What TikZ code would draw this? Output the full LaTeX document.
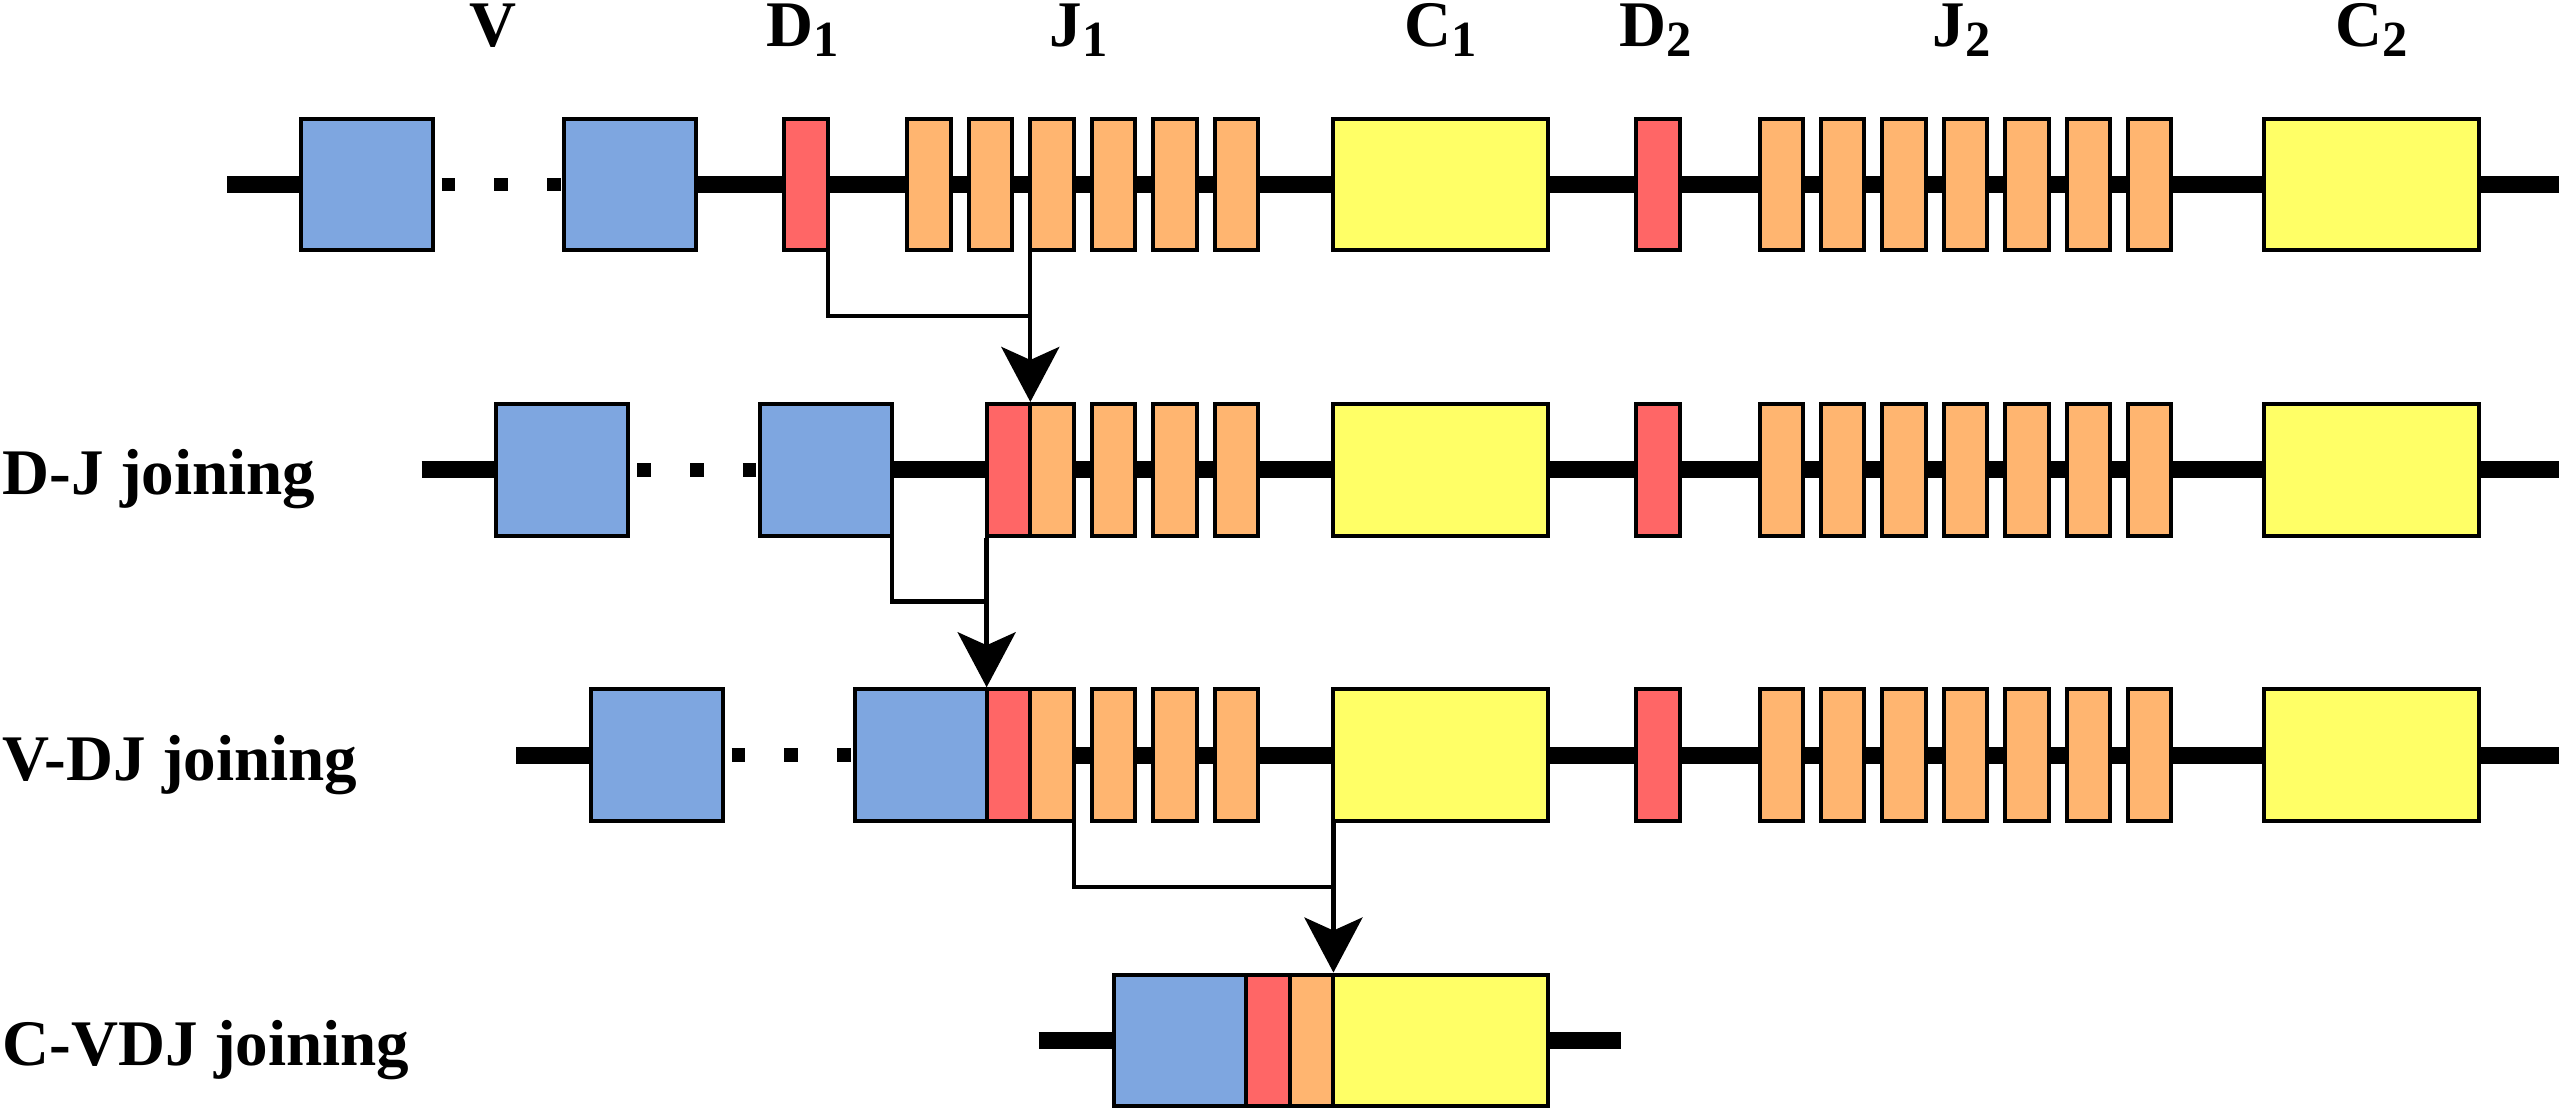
\documentclass[tikz,border=0pt]{standalone}
\usepackage{fontspec}
\setmainfont{Liberation Serif}
\usetikzlibrary{arrows.meta,backgrounds}
\definecolor{cv}{HTML}{7EA6E0}
\definecolor{cd}{HTML}{FF6666}
\definecolor{cj}{HTML}{FFB570}
\definecolor{cc}{HTML}{FFFF66}
\newcommand\lsub[1]{\raisebox{-0.1cm}{\fontsize{14.4}{16}\selectfont #1}}
\begin{document}
\begin{tikzpicture}[x=0.01cm, y=-0.01cm,
  gene/.style={draw=black, line width=0.04cm, rectangle, inner sep=0pt, outer xsep=0pt, outer ysep=0.02cm, minimum height=1.316cm},
  vseg/.style={gene, fill=cv, minimum width=1.32cm},
  dseg/.style={gene, fill=cd, minimum width=0.437cm},
  jseg/.style={gene, fill=cj, minimum width=0.435cm},
  cseg/.style={gene, fill=cc, minimum width=2.14cm},
  backbone/.style={line width=0.17cm},
  dotline/.style={line width=0.135cm, dash pattern=on 0.135cm off 0.392cm},
  conn/.style={line width=0.043cm},
  arr/.style={conn, -{Stealth[length=0.55cm, width=0.58cm, inset=0.13cm]}},
  lab/.style={font=\fontsize{18.5}{22}\selectfont\bfseries, inner sep=0pt},
]
\useasboundingbox (0,0) rectangle (2559,1109);

% ---------- row 1 ----------
\node[vseg] (r1v1) at (366.7,184.5) {};
\node[vseg] (r1v2) at (630.3,184.5) {};
\node[dseg] (r1d1) at (806.2,184.5) {};
\foreach \i in {1,...,6} \node[jseg] (r1j\i) at ({929.1+61.5*(\i-1)},184.5) {};
\node[cseg] (r1c1) at (1440.5,184.5) {};
\node[dseg] (r1d2) at (1658.3,184.5) {};
\foreach \i in {1,...,7} \node[jseg] (r1k\i) at ({1781.3+61.4*(\i-1)},184.5) {};
\node[cseg] (r1c2) at (2371.5,184.5) {};
\coordinate (r1a) at (227,184.5);
\coordinate (r1b) at (2559,184.5);

% ---------- row 2 ----------
\node[vseg] (r2v1) at (562.4,469.8) {};
\node[vseg] (r2v2) at (825.8,469.8) {};
\node[dseg] (r2d) at (1008.5,469.8) {};
\foreach \i in {3,...,6} \node[jseg] (r2j\i) at ({929.1+61.5*(\i-1)},469.8) {};
\node[cseg] (r2c1) at (1440.5,469.8) {};
\node[dseg] (r2d2) at (1658.3,469.8) {};
\foreach \i in {1,...,7} \node[jseg] (r2k\i) at ({1781.3+61.4*(\i-1)},469.8) {};
\node[cseg] (r2c2) at (2371.5,469.8) {};
\coordinate (r2a) at (421.5,469.8);
\coordinate (r2b) at (2559,469.8);

% ---------- row 3 ----------
\node[vseg] (r3v1) at (656.7,755.1) {};
\node[vseg] (r3v2) at (920.6,755.1) {};
\node[dseg] (r3d) at (1008.5,755.1) {};
\foreach \i in {3,...,6} \node[jseg] (r3j\i) at ({929.1+61.5*(\i-1)},755.1) {};
\node[cseg] (r3c1) at (1440.5,755.1) {};
\node[dseg] (r3d2) at (1658.3,755.1) {};
\foreach \i in {1,...,7} \node[jseg] (r3k\i) at ({1781.3+61.4*(\i-1)},755.1) {};
\node[cseg] (r3c2) at (2371.5,755.1) {};
\coordinate (r3a) at (516,755.1);
\coordinate (r3b) at (2559,755.1);

% ---------- row 4 ----------
\node[vseg] (r4v) at (1180.3,1040.4) {};
\node[dseg] (r4d) at (1268.15,1040.4) {};
\node[jseg] (r4j) at (1311.75,1040.4) {};
\node[cseg] (r4c) at (1440.5,1040.4) {};
\coordinate (r4a) at (1038.7,1040.4);
\coordinate (r4b) at (1620.6,1040.4);

% ---------- backbones and dots ----------
\begin{scope}[on background layer]
  \draw[backbone] (r1a) -- (r1v1.center);
  \draw[backbone] (r1v2.center) -- (r1b);
  \draw[backbone] (r2a) -- (r2v1.center);
  \draw[backbone] (r2v2.center) -- (r2b);
  \draw[backbone] (r3a) -- (r3v1.center);
  \draw[backbone] (r3v2.center) -- (r3b);
  \draw[backbone] (r4a) -- (r4b);
\end{scope}
\draw[dotline] ([xshift=0.09cm]r1v1.east) -- ++(118.9,0);
\draw[dotline] ([xshift=0.09cm]r2v1.east) -- ++(118.9,0);
\draw[dotline] ([xshift=0.09cm]r3v1.east) -- ++(118.9,0);

% ---------- joining connectors ----------
\draw[conn] (r1d1.south east) -- ++(0,64) -| (r1j3.south west);
\draw[arr] (r1j3.south west) -- (r1j3.south west |- r2d.north);
\draw[conn] (r2v2.south east) -- ++(0,64) -| (r2d.south west);
\draw[arr] (r2d.south west) -- (r2d.south west |- r3d.north);
\draw[conn] (r3j3.south east) -- ++(0,64) -| (r3c1.south west);
\draw[arr] (r3c1.south west) -- (r3c1.south west |- r4c.north);

% ---------- labels ----------
\node[lab, anchor=base] (tV) at (492.5,46.7) {V};
\node[lab, anchor=base] (tD1) at (802.3,46.7) {D\lsub{1}};
\node[lab, anchor=base] (tJ1) at (1078.7,46.7) {J\lsub{1}};
\node[lab, anchor=base] (tC1) at (1440.3,46.7) {C\lsub{1}};
\node[lab, anchor=base] (tD2) at (1655.5,46.7) {D\lsub{2}};
\node[lab, anchor=base] (tJ2) at (1961.6,46.7) {J\lsub{2}};
\node[lab, anchor=base] (tC2) at (2371.8,46.7) {C\lsub{2}};
\node[lab, anchor=base west] (tDJ) at (2,494) {D-J joining};
\node[lab, anchor=base west] (tVDJ) at (2,780) {V-DJ joining};
\node[lab, anchor=base west] (tCVDJ) at (2,1065) {C-VDJ joining};
\end{tikzpicture}
\end{document}
